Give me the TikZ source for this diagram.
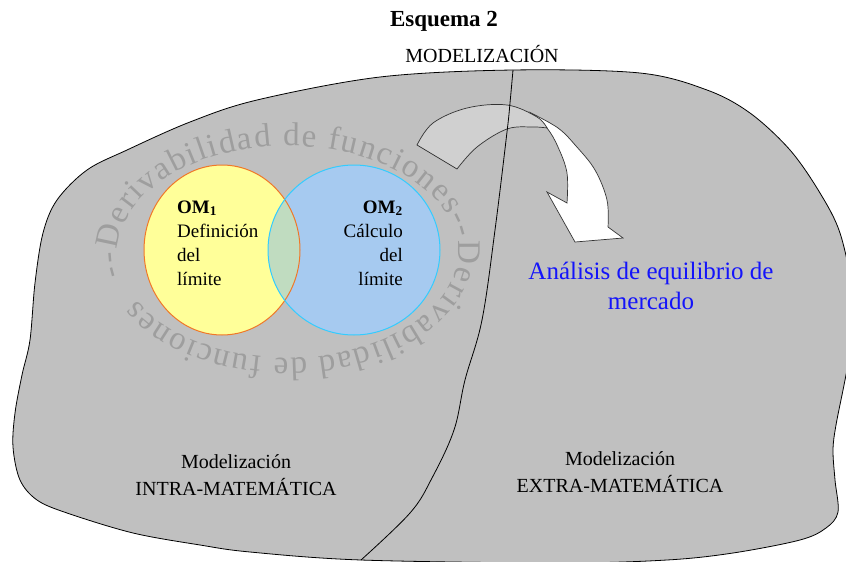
\documentclass[tikz,border=0pt]{standalone}
\usepackage{fontspec}
\setmainfont{Liberation Serif}
\usetikzlibrary{decorations.text}
\definecolor{blobgray}{RGB}{192,192,192}
\definecolor{arrowgray}{RGB}{208,208,208}
\definecolor{omyellow}{RGB}{255,255,153}
\definecolor{omorange}{RGB}{240,120,40}
\definecolor{omblue}{RGB}{166,202,240}
\definecolor{omcyan}{RGB}{51,204,255}
\definecolor{omboth}{RGB}{192,220,192}
\definecolor{arcgray}{RGB}{158,158,158}
\definecolor{mktblue}{RGB}{20,20,250}
\newcommand{\arcfont}{\fontsize{33}{33}\selectfont\color{arcgray}}
\tikzset{
    %Define style for the two regions
    region/.style={
           draw=black,
           fill=blobgray,
           line width=0.8pt},
    split/.style={
           draw=black,
           line width=0.8pt},
    % Define arrow styles
    arrowback/.style={
           draw=black!80,
           fill=arrowgray,
           line width=0.7pt},
    arrowfront/.style={
           draw=black!80,
           fill=white,
           line width=0.7pt},
    % Define text styles
    title/.style={
           font=\fontsize{23}{26}\selectfont\bfseries,
           inner sep=0pt},
    label/.style={
           font=\fontsize{20}{27}\selectfont,
           inner sep=0pt},
    omtext/.style={
           font=\fontsize{19}{24}\selectfont,
           inner sep=0pt},
    market/.style={
           font=\fontsize{25}{30}\selectfont,
           text=mktblue,
           align=center,
           inner sep=0pt}
}
\begin{document}
\begin{tikzpicture}[x=1pt, y=-1pt]
 \useasboundingbox (0,0) rectangle (846,562);
 \clip (0,0) rectangle (846,562);
 %regions
    \draw[region] plot[smooth cycle, tension=0.55] coordinates {
        (513,70) (640,73) (707,90) (750,113) (790,150) (820,193) (840,233)
        (852,290) (852,340) (845,380) (836,425) (833,450) (835,480) (838,512)
        (826,528) (800,540) (733,553) (667,560) (560,563) (361,560) (250,552)
        (200,545) (133,533) (67,513) (37,500) (20,480) (13,447) (15,413)
        (22,375) (30,340) (35,283) (43,233) (57,200) (87,170) (127,150)
        (190,122) (257,100) (380,77)};
 %circles
    \coordinate (om1) at (222,250);
    \coordinate (om2) at (354,250);
    \fill[omyellow] (om1) ellipse [x radius=78, y radius=85];
    \fill[omblue] (om2) ellipse [x radius=86, y radius=85];
    \begin{scope}
      \clip (om1) ellipse [x radius=78, y radius=85];
      \fill[omboth] (om2) ellipse [x radius=86, y radius=85];
    \end{scope}
    \draw[omorange, line width=1pt] (om1) ellipse [x radius=78, y radius=85];
    \draw[omcyan, line width=1pt] (om2) ellipse [x radius=86, y radius=85];
 %text round the circles
    \path[decorate, decoration={text along path, text align={fit to path},
        text={|\arcfont|--Derivabilidad de funciones--Derivabilidad de funciones}}]
        (288,252) ++(167.5:170 and 106)
        arc[start angle=167.5, end angle=513, x radius=170, y radius=106];
 %arrow
    \draw[arrowfront] plot[smooth, tension=0.6] coordinates {
        (531,113) (558,128) (576,146) (595,170) (607,200) (608,227)}
        -- (623,238) -- (575,242) -- (547,192) -- (567,203)
        -- plot[smooth, tension=0.6] coordinates {
        (567,203) (567,173) (558,147) (547,128) (531,113)} -- cycle;
    \draw[arrowback] plot[smooth, tension=0.6] coordinates {
        (417,145) (433,123) (467,108) (507,105) (537,117) (547,128)}
        -- plot[smooth, tension=0.6] coordinates {
        (547,128) (533,127) (507,129) (477,147) (457,169)} -- cycle;
 %dividing line
    \draw[split] plot[smooth, tension=0.6] coordinates {
        (513,70) (510,103) (507,132) (495,230) (482,320) (465,380)
        (454,430) (432,478) (410,513) (361,560)};
 %texts
    \node[title, anchor=base] (title) at (444,27) {Esquema 2};
    \node[label, anchor=base] (model) at (482,62) {MODELIZACIÓN};
    \node[omtext, anchor=base west, align=left] (om1text) at (177,285)
        {\textbf{OM\textsubscript{1}}\\Definición\\del\\límite};
    \node[omtext, anchor=base east, align=right] (om2text) at (403,285)
        {\textbf{OM\textsubscript{2}}\\Cálculo\\del\\límite};
    \node[market] (market) at (651,286) {Análisis de equilibrio de\\mercado};
    \node[label, anchor=base, align=center] (intra) at (236,495)
        {Modelización\\INTRA-MATEMÁTICA};
    \node[label, anchor=base, align=center] (extra) at (620,492)
        {Modelización\\EXTRA-MATEMÁTICA};
\end{tikzpicture}
\end{document}
